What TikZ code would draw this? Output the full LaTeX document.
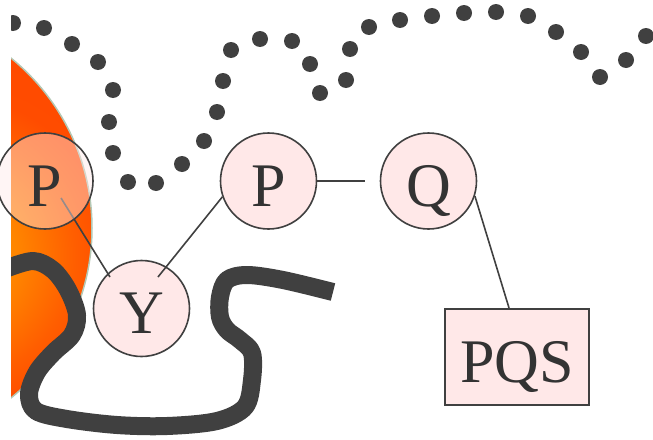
\documentclass[tikz,border=0pt]{standalone}
\usepackage{fontspec}
\setmainfont{Liberation Serif}
\usetikzlibrary{calc}
\pgfdeclarelayer{front}
\pgfsetlayers{main,front}
\definecolor{ink}{HTML}{404040}
\definecolor{txt}{HTML}{333333}
\definecolor{blush}{HTML}{FFE8E8}
\definecolor{flameA}{HTML}{FF9600}
\definecolor{flameM}{HTML}{FF8600}
\definecolor{flameN}{HTML}{FF5E00}
\definecolor{flameB}{HTML}{FF4C00}
\definecolor{flameC}{HTML}{FF4800}
\definecolor{rim}{HTML}{B4C8B4}
% radial glow; on a circle of radius 250pt one bp of the shading is about 10pt
\pgfdeclareradialshading{flameglow}{\pgfpoint{0bp}{0bp}}{%
  color(0bp)=(flameA); color(6.5bp)=(flameM); color(12.5bp)=(flameN);
  color(16bp)=(flameB); color(25bp)=(flameC); color(50bp)=(flameC)}
\tikzset{
  bead/.style={circle, draw=ink, line width=1.6pt, fill=blush, minimum size=96pt,
    inner sep=0pt, text=txt, font=\fontsize{62}{62}\selectfont,
    text height=50pt, text depth=0pt},
  tag/.style={rectangle, draw=ink, line width=2.2pt, fill=blush,
    minimum width=144pt, minimum height=96pt, inner sep=0pt, text=txt,
    font=\fontsize{62}{62}\selectfont, text height=50pt, text depth=0pt},
  link/.style={draw=ink, line width=1.6pt},
  rope/.style={draw=ink, line width=18pt, line join=round}
}
\begin{document}
\begin{tikzpicture}[x=1pt,y=-1pt]
\useasboundingbox (0,0) rectangle (653,439);
\clip (11,0) rectangle (653,439);

% glowing blob on the left
\begin{scope}
  \clip (-130,228) ellipse [x radius=222pt, y radius=220pt];
  \fill[flameC] (-400,0) rectangle (100,460);
  \shade[shading=flameglow] (-50,255) circle [radius=250pt];
\end{scope}
\draw[rim, line width=1.5pt] (-130,228) ellipse [x radius=222pt, y radius=220pt];

% dotted trail across the top
\foreach \px/\py in {13/23, 44/28, 72/44, 98/62, 113/90, 109/122, 113/153,
    128/182, 156/183, 182/164, 204/141, 217/112, 223/81, 231/50, 260/39,
    292/41, 310/64, 320/93, 346/80, 350/49, 369/27, 400/20, 432/16, 464/13,
    496/12, 528/16, 556/32, 581/52, 600/77, 626/60, 646/36}
  \fill[ink] (\px,\py) circle [radius=8pt];

% thick strand
\draw[rope] plot[smooth, tension=0.55] coordinates {(5,269) (33,261) (53,270)
  (68,290) (77,315) (72,335) (53,353) (37,372) (29,394) (36,411) (67,419)
  (117,425) (167,426) (217,421) (245,407) (252,380) (252,353) (240,340)
  (227,330) (220,317) (220,297) (227,280) (247,275) (283,280) (333,292)};

% nodes
\node[bead] (Y) at (141.5,308.5) {Y};
\node[bead] (P2) at (268.5,181) {P};
\node[bead] (Q) at (428.5,181) {Q};
\node[tag] (PQS) at (517,357) {PQS};
\begin{pgfonlayer}{front}
  \node[bead, fill opacity=0.45, text opacity=1] (P1) at (45,181) {P};
\end{pgfonlayer}

% connectors
\coordinate (qgap) at ($(Q.west)+(-15,0)$);
\draw[link] ($(P1)+(16,17)$) -- ($(Y)+(-31.5,-31.5)$);
\draw[link] ($(Y)+(16.5,-31.5)$) -- (P2.199);
\draw[link] (P2.east) -- (qgap);
\draw[link] (Q.-18) -- ($(PQS.north)+(-8,0)$);
\end{tikzpicture}
\end{document}
